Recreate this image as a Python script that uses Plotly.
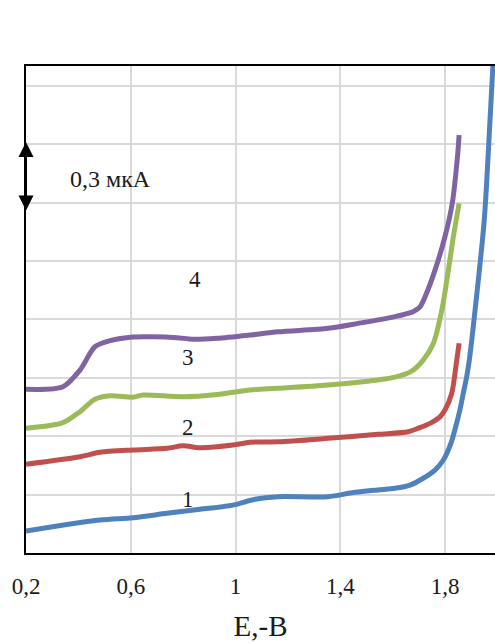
import plotly.graph_objects as go

# Potential (E, -V) and current (µA) for each curve
E1 = [0.2, 0.482, 0.608, 0.738, 0.864, 0.990, 1.074, 1.162, 1.353, 1.444, 1.543, 1.608, 1.666, 1.716, 1.761, 1.793, 1.822, 1.840, 1.856, 1.869, 1.882, 1.892, 1.914, 1.949, 1.971, 1.982, 1.994]
I1 = [0.094, 0.141, 0.151, 0.170, 0.187, 0.205, 0.230, 0.241, 0.241, 0.258, 0.270, 0.277, 0.291, 0.320, 0.355, 0.398, 0.470, 0.541, 0.612, 0.684, 0.755, 0.826, 1.040, 1.426, 1.854, 2.085, 2.32]

E2 = [0.2, 0.406, 0.482, 0.608, 0.738, 0.799, 0.864, 0.990, 1.055, 1.162, 1.353, 1.543, 1.659, 1.697, 1.742, 1.780, 1.799, 1.825, 1.844, 1.853]
I2 = [0.380, 0.412, 0.431, 0.441, 0.448, 0.459, 0.451, 0.462, 0.474, 0.476, 0.491, 0.508, 0.519, 0.534, 0.555, 0.583, 0.612, 0.684, 0.826, 0.898]

E3 = [0.2, 0.341, 0.406, 0.463, 0.521, 0.608, 0.647, 0.799, 0.929, 1.055, 1.162, 1.353, 1.543, 1.608, 1.672, 1.716, 1.755, 1.787, 1.812, 1.831, 1.853]
I3 = [0.534, 0.558, 0.605, 0.658, 0.673, 0.667, 0.676, 0.669, 0.679, 0.698, 0.705, 0.719, 0.741, 0.753, 0.779, 0.826, 0.898, 1.040, 1.211, 1.354, 1.497]

E4 = [0.2, 0.341, 0.406, 0.463, 0.521, 0.608, 0.685, 0.776, 0.837, 0.929, 1.055, 1.162, 1.353, 1.467, 1.608, 1.677, 1.704, 1.729, 1.761, 1.799, 1.827, 1.848, 1.853]
I4 = [0.701, 0.712, 0.783, 0.883, 0.909, 0.925, 0.926, 0.922, 0.915, 0.919, 0.933, 0.947, 0.962, 0.983, 1.012, 1.033, 1.054, 1.113, 1.211, 1.354, 1.498, 1.712, 1.789]

series = [(E1, I1, "#4F81BD"), (E2, I2, "#C0504D"), (E3, I3, "#9BBB59"), (E4, I4, "#8064A2")]

curve_labels = ["1", "2", "3", "4"]
label_E = [0.818, 0.818, 0.818, 0.845]
label_I = [0.231, 0.539, 0.839, 1.169]

x_tickvals = [0.2, 0.6, 1.0, 1.4, 1.8]
x_ticktext = ["0,2", "0,6", "1", "1,4", "1,8"]

scale_text = "0,3 мкА"
scale_low, scale_high = 1.46, 1.76

FONT = "Liberation Serif, Times New Roman, serif"
TXT = "#1a1a1a"

fig = go.Figure()
for E, I, c in series:
    fig.add_trace(go.Scatter(x=E, y=I, mode="lines",
                             line=dict(color=c, width=5, shape="spline", smoothing=0.8),
                             showlegend=False, hoverinfo="skip"))

for t, xe, yi in zip(curve_labels, label_E, label_I):
    fig.add_annotation(x=xe, y=yi, text=t, showarrow=False,
                       font=dict(family=FONT, size=23, color=TXT))

fig.add_annotation(x=0.521, y=1.601, text=scale_text, showarrow=False,
                   font=dict(family=FONT, size=24, color=TXT))
fig.add_annotation(x=0.2, y=scale_high, ax=0.2, ay=scale_low, axref="x", ayref="y",
                   text="", showarrow=True, arrowside="end+start", arrowhead=2,
                   startarrowhead=2, arrowwidth=2, arrowsize=1.5, startarrowsize=1.5,
                   arrowcolor="black")

fig.update_layout(
    width=495, height=643,
    margin=dict(l=26, r=0, t=66, b=90),
    paper_bgcolor="white", plot_bgcolor="white",
    separators=", ",
    font=dict(family=FONT, color=TXT),
    xaxis=dict(range=[0.2, 1.99], tickvals=x_tickvals, ticktext=x_ticktext,
               showgrid=True, gridcolor="#d9d9d9", gridwidth=1.5,
               showline=True, linecolor="black", linewidth=2, mirror=True,
               zeroline=False, ticks="", ticklabelstandoff=11,
               tickfont=dict(family=FONT, size=23, color=TXT),
               title=dict(text="E,-B", font=dict(family=FONT, size=29, color=TXT), standoff=18)),
    yaxis=dict(range=[0, 2.085], dtick=0.25, tick0=0, showticklabels=False,
               showgrid=True, gridcolor="#d9d9d9", gridwidth=1.5,
               showline=True, linecolor="black", linewidth=2, mirror=False,
               zeroline=False, ticks=""),
)

fig.write_html("out.html")
